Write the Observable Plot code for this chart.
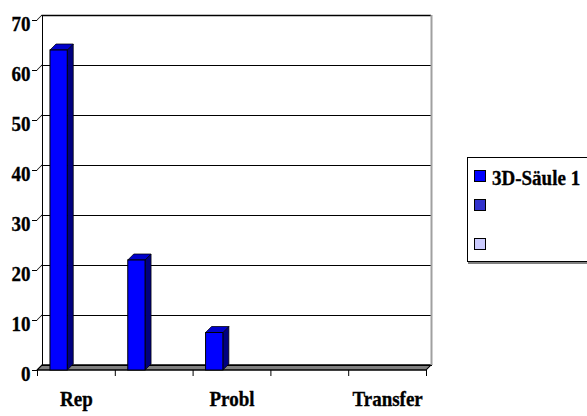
<!DOCTYPE html>
<html><head><meta charset="utf-8">
<script src="https://cdn.jsdelivr.net/npm/d3@7"></script>
<script src="https://cdn.jsdelivr.net/npm/@observablehq/plot@0.6"></script>
<style>
body{margin:0;background:#fff;}
#wrap{position:relative;width:587px;height:416px;overflow:hidden;font-family:"Liberation Serif",Times,"Times New Roman",serif;font-weight:bold;}
#legend{position:absolute;left:467px;top:157px;width:130px;height:103px;border:1px solid #000;box-shadow:1px 2px 0 #808080;background:#fff;}
.sw{position:absolute;left:6px;width:12px;height:12px;border:1px solid #000;box-sizing:border-box;}
.lt{position:absolute;left:24px;font-size:19px;line-height:19px;white-space:nowrap;color:#000;font-family:"Liberation Serif",Times,"Times New Roman",serif;font-weight:bold;transform:scaleY(1.12);transform-origin:0 80%;-webkit-text-stroke:0.3px #000;}
</style></head>
<body>
<div id="wrap"></div>
<script>
const categories = ["Rep", "", "Probl", "", "Transfer"];
const values = [64, 22, 7.5, 0, 0];
const seriesNames = ["3D-Säule 1", "", ""];
const seriesColors = ["#0000ff", "#3333cc", "#ccccff"];
const yTicks = [0, 10, 20, 30, 40, 50, 60, 70];

// Excel clustered layout: 3 series per category, gap width 150%
const gapWidth = 1.5;
const nSeries = seriesNames.length;
const unit = 1 / (nSeries + gapWidth);
const data = categories.map((c, i) => ({
  i, c, v: values[i],
  x1: i + gapWidth / 2 * unit,
  x2: i + gapWidth / 2 * unit + unit
}));
const bars = data.filter(d => d.v > 0);
const labelTicks = categories.map((c, i) => i + 0.5).filter((_, i) => categories[i] !== "");
const bounds = d3.range(categories.length + 1);
const n = categories.length;
const serif = '"Liberation Serif", Times, "Times New Roman", serif';

const chart = Plot.plot({
  width: 587, height: 416,
  marginLeft: 37, marginRight: 161, marginTop: 20, marginBottom: 46,
  x: {type: "linear", domain: [0, n], label: null},
  y: {domain: [0, 70], label: null},
  style: {fontFamily: serif, fontWeight: "bold", fontSize: "19px", background: "white", color: "black", overflow: "visible"},
  marks: [
    // floor
    Plot.rect([0], {x1: 0, x2: n, y1: 0, y2: 0, insetTop: -5, fill: "#808080", stroke: "black", strokeWidth: 1.5}),
    // back wall
    Plot.frame({dx: 5, dy: -5, stroke: "black"}),
    Plot.ruleY(yTicks.filter(t => t > 0 && t < 70), {dx: 5, dy: -5, stroke: "black"}),
    Plot.ruleY([70], {dx: 5, dy: -5, stroke: "black", strokeWidth: 1.5}),
    Plot.ruleX([n], {y1: 0, y2: 70, dx: 5, dy: -5, stroke: "#a0a0a0", strokeWidth: 2}),
    // side wall diagonals
    Plot.rect(yTicks, {x1: 0, x2: 0, y1: d => d, y2: d => d, insetRight: -5, insetTop: -0.5, insetBottom: -0.5, fill: "#000"}),
    // 3D bars
    Plot.rect(bars, {x1: "x2", x2: "x2", y1: 0, y2: "v", insetRight: -6, fill: "#000080", stroke: "black", strokeWidth: 0.6}),
    Plot.rect(bars, {x1: "x1", x2: "x2", y1: "v", y2: "v", insetTop: -6, fill: "#0000cc", stroke: "black", strokeWidth: 0.6}),
    Plot.rect(bars, {x1: "x1", x2: "x2", y1: 0, y2: "v", fill: seriesColors[0], stroke: "black", strokeWidth: 1}),
    // axes
    Plot.axisY({ticks: yTicks, tickSize: 5, tickFormat: () => "", line: true, stroke: "black"}),
    Plot.axisY({ticks: yTicks, tickSize: 0, tickPadding: 7, dy: 4, fill: "black", fontSize: 19}),
    Plot.axisX({ticks: bounds, tickSize: 6, tickFormat: () => "", stroke: "black"}),
    Plot.axisX({ticks: labelTicks, tickSize: 0, tickPadding: 20, tickFormat: t => categories[Math.floor(t)], fill: "black", fontSize: 19})
  ]
});

function skew(fill, transform, origin) {
  chart.querySelectorAll(`g[fill="${fill}"] rect`).forEach(r => {
    r.style.transformBox = "fill-box";
    r.style.transformOrigin = origin;
    r.style.transform = transform;
  });
}
skew("#000080", "skewY(-45deg)", "0 0");
skew("#0000cc", "skewX(-45deg)", "0 100%");
skew("#808080", "skewX(-45deg)", "0 100%");
skew("#000", "skewY(-45deg)", "0 0");

// slightly taller, heavier lettering like the reference
chart.querySelectorAll("text").forEach(t => {
  const tr = t.getAttribute("transform") || "";
  t.setAttribute("transform", (tr + " scale(1,1.12)").trim());
  t.setAttribute("stroke", "black");
  t.setAttribute("stroke-width", "0.3");
});

const wrap = document.getElementById("wrap");
wrap.appendChild(chart);

const legend = document.createElement("div");
legend.id = "legend";
const swTops = [12, 41, 80];
seriesNames.forEach((name, k) => {
  const sw = document.createElement("div");
  sw.className = "sw";
  sw.style.top = swTops[k] + "px";
  sw.style.background = seriesColors[k];
  legend.appendChild(sw);
  if (name) {
    const t = document.createElement("div");
    t.className = "lt";
    t.style.top = (swTops[k] - 1) + "px";
    t.textContent = name;
    legend.appendChild(t);
  }
});
wrap.appendChild(legend);
</script>
</body></html>
